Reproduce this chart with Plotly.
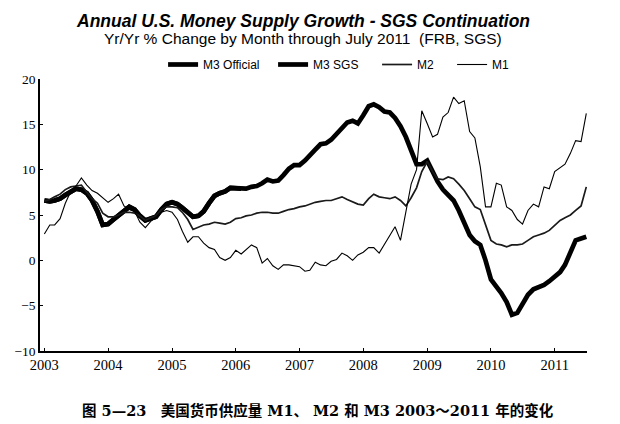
import pandas as pd
import plotly.graph_objects as go

# monthly, Jan 2003 .. Jul 2011, yr/yr % change
months = pd.date_range('2003-01-01', '2011-07-01', freq='MS')

m3_sgs = [6.6, 6.5, 6.6, 6.8, 7.2, 7.6, 7.9, 7.8, 7.4, 6.6, 5.4, 3.9,
          4.0, 4.5, 5.0, 5.5, 5.9, 5.6, 4.9, 4.4, 4.6, 4.8, 5.6, 6.2,
          6.4, 6.2, 5.8, 5.3, 4.8, 4.9, 5.4, 6.3, 7.1, 7.4, 7.6, 8.0,
          8.0, 7.9, 7.9, 8.1, 8.2, 8.5, 8.9, 8.7, 8.8, 9.4, 10.1, 10.5,
          10.5, 11.0, 11.5, 12.2, 12.8, 12.9, 13.3, 14.0, 14.7, 15.2, 15.4, 15.1,
          16.0, 17.0, 17.2, 16.9, 16.4, 16.3, 15.7, 14.8, 13.6, 12.2, 10.6, 10.6,
          11.0, 9.8, 8.7, 7.8, 7.2, 6.6, 5.5, 4.0, 2.8, 2.1, 1.7, 0.0,
          -2.1, -2.9, -3.6, -4.6, -6.0, -5.8, -4.8, -3.8, -3.2, -3.0, -2.7, -2.3,
          -1.8, -1.3, -0.5, 0.9, 2.2, 2.4, 2.6]

# official M3 was discontinued in Feb 2006
m3_official = m3_sgs[:38]

m2 = [6.5, 6.7, 7.0, 7.3, 7.8, 8.1, 8.2, 8.3, 7.5, 6.8, 6.3, 5.2,
      4.8, 4.8, 5.0, 5.3, 5.3, 5.2, 4.9, 4.4, 4.7, 4.9, 5.6, 5.9,
      5.9, 5.8, 5.3, 4.5, 3.4, 3.7, 3.9, 4.0, 4.2, 4.1, 4.0, 4.2,
      4.6, 4.7, 4.9, 5.0, 5.2, 5.3, 5.3, 5.2, 5.2, 5.4, 5.6, 5.7,
      5.9, 6.0, 6.2, 6.4, 6.5, 6.6, 6.6, 6.8, 7.0, 6.7, 6.4, 6.2,
      6.1, 6.8, 7.3, 7.0, 6.9, 6.8, 7.0, 6.6, 6.0, 6.9, 8.0, 9.8,
      10.9, 9.8, 9.0, 8.9, 9.2, 9.0, 8.4, 7.7, 6.8, 5.9, 5.6, 4.0,
      2.2, 1.8, 1.7, 1.5, 1.7, 1.7, 1.8, 2.2, 2.6, 2.8, 3.0, 3.3,
      3.8, 4.4, 4.7, 5.0, 5.5, 6.0, 8.1]

m1 = [2.9, 3.9, 3.9, 4.6, 6.3, 7.6, 8.2, 9.1, 8.3, 7.7, 7.4, 6.9,
      6.4, 6.8, 7.3, 6.0, 5.6, 5.4, 4.2, 3.6, 4.3, 4.8, 5.3, 5.5,
      5.3, 4.5, 3.2, 2.0, 2.6, 2.6, 1.9, 1.4, 1.2, 0.3, 0.0, 0.3,
      1.1, 0.7, 1.2, 1.7, 1.4, -0.3, 0.2, -0.6, -1.0, -0.5, -0.5, -0.6,
      -0.7, -1.2, -1.1, -0.2, -0.5, -0.6, -0.1, 0.1, 0.8, 0.5, 0.0, 0.6,
      0.9, 1.4, 1.4, 0.8, 1.8, 2.8, 3.7, 2.2, 5.5, 8.4, 10.0, 16.5,
      15.1, 13.6, 13.9, 15.8, 16.3, 18.0, 17.3, 17.6, 14.2, 13.5, 10.3, 5.9,
      5.9, 8.5, 8.3, 5.9, 5.5, 4.5, 4.0, 5.5, 6.2, 5.9, 8.1, 7.9,
      9.8, 10.2, 10.6, 11.8, 13.2, 13.1, 16.2]

year_ticks = [str(y) for y in range(2003, 2012)]
y_ticks = [-10, -5, 0, 5, 10, 15, 20]

title = 'Annual U.S. Money Supply Growth - SGS Continuation'
subtitle = 'Yr/Yr % Change by Month through July 2011  (FRB, SGS)'
caption = '图 5—23　美国货币供应量 M1、 M2 和 M3 2003～2011 年的变化'

fig = go.Figure()
fig.add_trace(go.Scatter(x=months[:len(m3_official)], y=m3_official, name='M3 Official',
                         mode='lines', line=dict(color='black', width=4.7), legendwidth=65))
fig.add_trace(go.Scatter(x=months, y=m3_sgs, name='M3 SGS',
                         mode='lines', line=dict(color='black', width=4.7), legendwidth=59))
fig.add_trace(go.Scatter(x=months, y=m2, name='M2',
                         mode='lines', line=dict(color='#1a1a1a', width=1.7), legendwidth=30))
fig.add_trace(go.Scatter(x=months, y=m1, name='M1',
                         mode='lines', line=dict(color='black', width=1.1), legendwidth=30))

# page body has an 8px margin, so the figure is 8px smaller than the window
fig.update_layout(
    width=612, height=416,
    margin=dict(l=32, r=33, t=71, b=73, autoexpand=False),
    paper_bgcolor='white', plot_bgcolor='white',
    showlegend=True,
    legend=dict(orientation='h', x=0.225, y=1.0, xanchor='left', yanchor='bottom',
                font=dict(family='Liberation Sans, Arial', size=12, color='black'),
                itemwidth=30, tracegroupgap=0, bgcolor='rgba(0,0,0,0)'),
    annotations=[
        dict(text='<b><i>' + title + '</i></b>', xref='paper', yref='paper',
             x=0.481, y=1.0, xanchor='center', yanchor='bottom', yshift=46,
             showarrow=False, font=dict(family='Liberation Sans, Arial', size=17.5, color='black')),
        dict(text=subtitle, xref='paper', yref='paper',
             x=0.481, y=1.0, xanchor='center', yanchor='bottom', yshift=30,
             showarrow=False, font=dict(family='Liberation Sans, Arial', size=15.5, color='black')),
        dict(text='<b>' + caption + '</b>', xref='paper', yref='paper',
             x=0.508, y=0, xanchor='center', yanchor='top', yshift=-49,
             showarrow=False, font=dict(family='DejaVu Serif, Noto Sans CJK SC', size=14.5, color='black')),
    ],
)

fig.update_xaxes(
    range=['2002-12-07', '2011-07-05'],
    tickvals=[y + '-01-01' for y in year_ticks], ticktext=year_ticks,
    showgrid=False, zeroline=False,
    showline=True, linecolor='black', linewidth=1.5,
    ticks='inside', ticklen=3, tickcolor='black',
    tickfont=dict(family='Liberation Serif, Times New Roman', size=14.5, color='black'),
)
fig.update_yaxes(
    range=[-10, 20], tickvals=y_ticks,
    showgrid=False, zeroline=False,
    showline=True, linecolor='black', linewidth=1.5,
    ticks='inside', ticklen=3, tickcolor='black',
    tickfont=dict(family='Liberation Serif, Times New Roman', size=13.5, color='black'),
)

fig.write_html('out.html')
